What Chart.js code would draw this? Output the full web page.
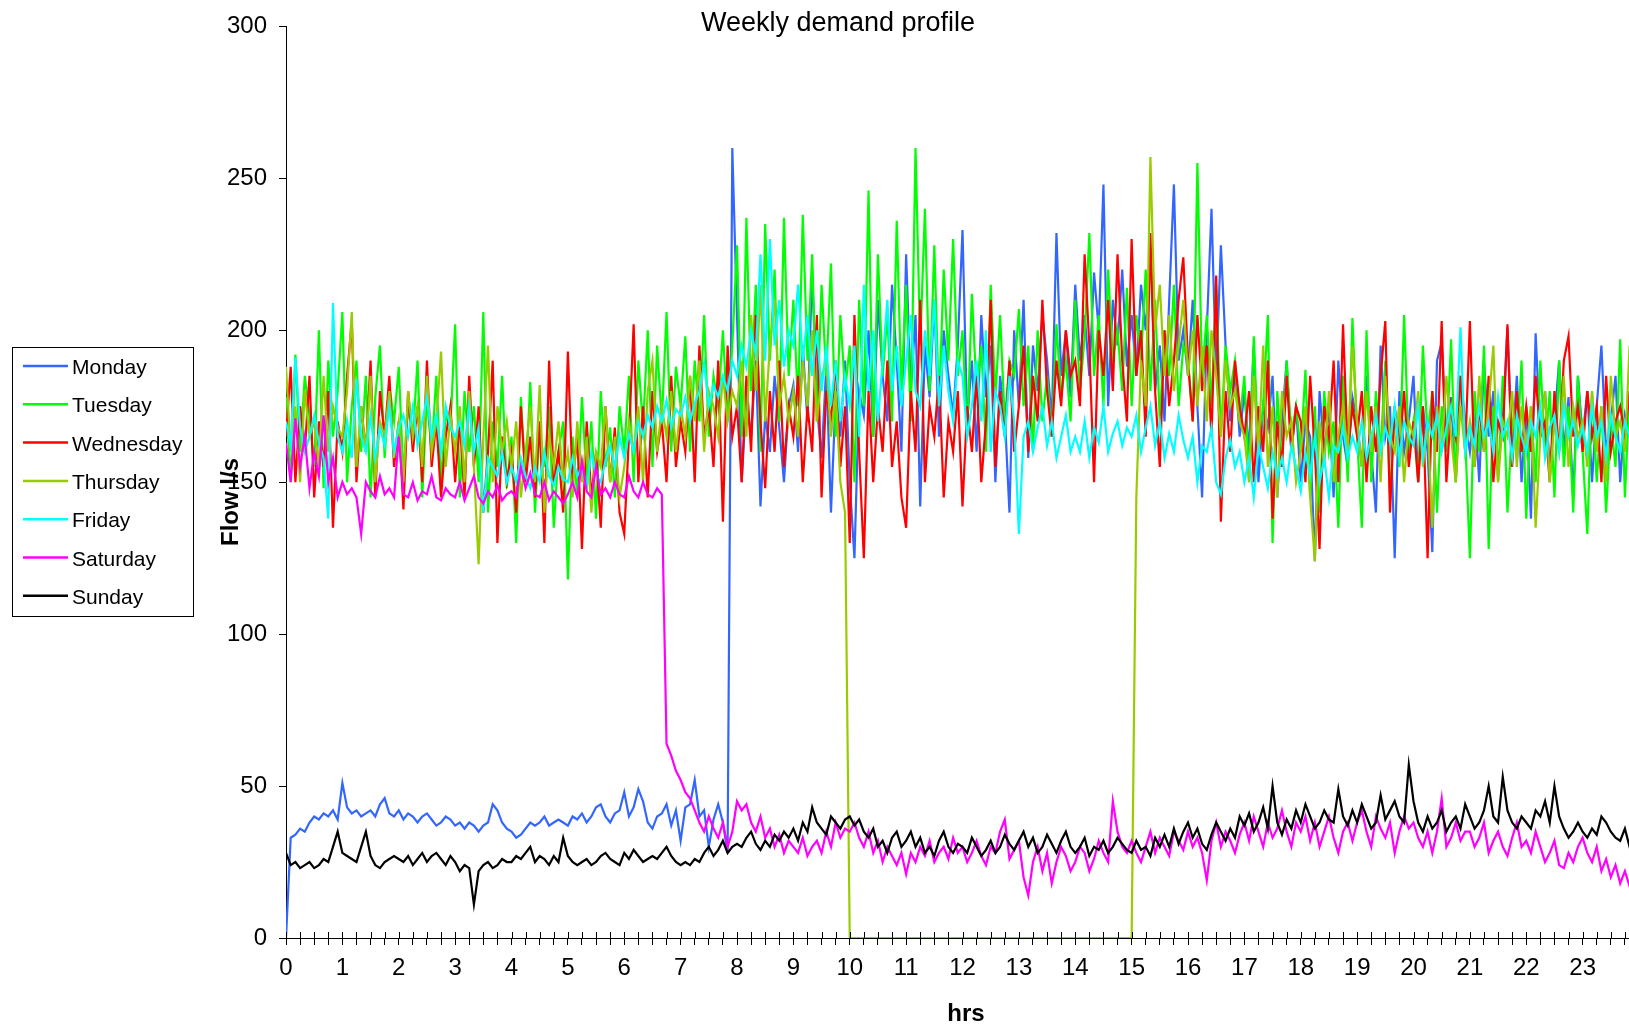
<!DOCTYPE html>
<html><head><meta charset="utf-8">
<script src="https://cdn.jsdelivr.net/npm/chart.js@4/dist/chart.umd.min.js"></script>
<style>
html,body{margin:0;padding:0;background:#fff;overflow:hidden;width:1629px;height:1027px;}
#wrap{position:absolute;left:0;top:0;width:1648px;height:1027px;}
</style>
</head><body><div id="wrap"><canvas id="c" width="1648" height="1027"></canvas></div>
<script>
// 5-minute samples, 288 per day (index i -> i*5 minutes)
const STEP_HOURS = 5 / 60;
const chartTitle = 'Weekly demand profile';
const xTitle = 'hrs';
const yTitle = 'Flow l/s';
const xTickLabels = ['0','1','2','3','4','5','6','7','8','9','10','11','12','13','14','15','16','17','18','19','20','21','22','23'];
const yTickStep = 50;
const dayNames = ['Monday','Tuesday','Wednesday','Thursday','Friday','Saturday','Sunday'];
const dayColors = ['#3366FF','#00FF00','#FF0000','#99CC00','#00FFFF','#FF00FF','#000000'];

const monday = [
0,33,34,36,35,38,40,39,41,40,42,39,
51,43,41,42,40,41,42,40,44,46,41,40,
42,39,41,40,38,40,41,39,37,38,40,39,
37,38,36,38,37,35,37,38,44,42,38,36,
35,33,34,36,38,37,38,40,37,38,39,38,
37,40,39,41,38,40,43,44,40,38,41,42,
48,40,43,49,45,38,36,40,41,44,37,42,
32,43,44,52,40,42,30,39,44,38,28,260,
205,150,178,165,190,142,172,160,185,168,150,175,
182,160,195,170,220,175,158,188,140,178,165,190,
150,125,180,172,200,165,210,185,170,215,190,160,
225,180,205,142,195,178,210,165,200,185,172,195,
233,170,190,160,205,178,195,150,185,172,140,200,
175,210,158,195,180,205,190,170,232,185,200,178,
215,190,205,185,219,200,248,175,210,195,220,188,
205,185,215,200,227,180,195,170,210,248,190,200,
185,210,175,145,200,240,185,228,195,170,188,165,
180,160,195,150,175,168,185,145,170,190,160,175,
150,170,165,124,180,160,175,145,190,165,155,178,
170,155,185,160,140,195,165,175,125,180,160,170,
185,150,175,160,127,190,196,165,178,150,185,170,
160,175,150,190,165,180,155,170,201,160,185,150,
175,138,199,165,180,155,170,190,160,178,145,185,
165,180,150,175,195,160,170,185,150,172,165,180
];
const tuesday = [
178,150,192,160,185,172,155,200,148,190,165,180,
206,150,175,190,160,185,145,178,195,158,182,170,
188,152,175,165,190,145,178,160,185,150,172,168,
202,145,180,160,175,150,206,140,170,155,185,148,
165,130,178,150,183,140,168,155,175,135,160,170,
118,165,145,178,150,170,138,180,155,168,145,175,
160,185,150,190,168,200,155,195,170,206,160,188,
175,198,160,190,170,205,165,185,175,200,170,195,
228,165,237,180,215,160,235,190,220,170,237,185,
210,175,238,190,225,170,215,185,222,165,205,180,
195,150,210,175,246,165,225,185,205,170,236,180,
215,170,260,195,240,180,228,175,220,190,230,185,
200,165,212,180,195,160,215,178,205,170,190,185,
207,175,195,160,200,170,185,165,202,178,190,170,
210,180,198,232,185,205,175,220,190,200,180,214,
175,205,190,220,180,210,170,200,185,215,175,195,
190,170,255,185,205,175,215,165,195,180,190,170,
185,150,198,160,175,205,130,180,155,190,165,175,
160,187,145,175,140,180,160,170,135,185,150,204,
165,135,200,150,180,160,190,145,175,155,205,160,
170,150,195,165,180,140,175,160,197,150,185,165,
125,180,160,195,128,175,150,185,140,170,160,190,
138,175,150,190,160,180,145,190,155,175,140,185,
160,133,180,150,175,140,170,155,197,145,180,165
];
const wednesday = [
165,188,150,175,160,185,145,170,155,180,135,170,
160,185,203,150,175,160,190,145,180,165,185,155,
170,141,180,160,175,150,190,155,170,145,165,175,
150,170,145,185,155,175,140,160,190,130,165,150,
160,140,175,150,165,145,170,130,190,150,160,140,
193,150,165,128,170,145,160,135,175,150,168,140,
133,165,202,150,175,145,180,160,170,150,185,155,
170,160,185,150,195,165,175,155,190,137,195,165,
175,150,185,160,205,170,148,180,160,190,155,175,
165,185,150,175,160,205,145,180,170,190,155,175,
130,205,160,125,180,150,175,160,190,155,170,145,
135,180,160,210,150,175,165,185,145,170,160,180,
142,175,160,185,150,170,210,155,180,165,190,160,
175,195,160,185,170,210,180,165,190,175,200,185,
190,175,225,195,150,200,185,210,180,225,190,170,
230,185,200,165,232,180,155,200,175,190,210,224,
190,170,205,180,195,165,218,137,180,160,190,175,
165,180,150,175,160,190,138,170,155,185,160,175,
170,150,185,160,128,175,165,190,150,202,160,175,
165,180,150,175,160,185,203,140,175,160,180,155,
170,150,175,125,180,160,203,150,175,165,185,160,
203,155,175,160,185,150,170,165,202,155,180,160,
175,160,185,165,170,150,180,160,190,198,165,175,
160,180,165,175,150,185,160,170,175,165,180,160
];
const thursday = [
188,160,175,150,180,165,170,155,185,160,175,168,
165,180,206,155,175,160,185,150,170,165,180,158,
170,150,180,165,175,155,185,160,170,193,155,172,
160,175,150,180,155,123,165,195,150,175,160,170,
155,170,145,160,175,150,182,140,165,155,170,150,
160,145,170,150,165,140,160,155,175,150,165,145,
155,170,160,175,150,180,190,160,175,165,180,160,
175,165,185,170,190,160,180,175,165,185,170,180,
175,190,165,205,180,215,170,195,210,175,185,170,
180,165,190,175,200,170,185,190,165,180,150,140,
0,0,0,0,0,0,0,0,0,0,0,0,
0,0,0,0,0,0,0,0,0,0,0,0,
0,0,0,0,0,0,0,0,0,0,0,0,
0,0,0,0,0,0,0,0,0,0,0,0,
0,0,0,0,0,0,0,0,0,0,0,0,
0,145,190,175,257,200,215,185,205,180,195,210,
185,200,175,195,170,200,185,165,190,175,180,170,
165,150,185,160,195,155,175,145,180,165,170,150,
160,175,145,124,170,155,180,150,165,175,160,195,
170,155,180,160,175,150,185,165,160,175,150,170,
165,180,155,170,135,175,160,185,165,150,175,160,
170,155,185,160,175,195,150,170,165,180,155,175,
160,175,135,165,180,150,170,160,185,155,175,165,
170,155,180,160,175,150,185,165,170,160,195,168
];
const friday = [
170,162,191,168,160,165,172,163,158,138,209,165,
160,170,158,184,165,160,172,158,168,162,175,160,
168,172,165,175,162,170,178,165,172,160,175,168,
165,170,162,175,160,168,140,158,155,152,160,150,
155,150,158,152,148,155,150,160,152,149,155,151,
150,158,152,155,148,160,152,150,157,162,155,165,
158,166,160,170,165,172,168,175,170,177,168,174,
172,178,170,176,180,189,175,182,178,185,180,190,
185,195,188,200,192,225,190,230,195,210,188,200,
195,215,190,205,185,200,180,195,175,190,170,185,
175,195,165,215,180,200,170,190,210,180,195,175,
190,205,180,175,200,185,210,175,195,180,170,190,
185,165,175,190,170,200,160,180,175,165,185,170,
133,165,170,160,168,175,162,170,158,165,172,160,
165,160,170,158,168,163,175,160,166,170,162,168,
165,172,160,168,175,162,170,158,166,160,172,164,
158,165,150,162,160,168,150,146,158,164,155,160,
150,158,145,162,155,148,160,152,158,150,162,155,
147,160,152,165,150,158,145,162,160,168,158,165,
160,170,158,165,172,160,168,163,175,158,170,165,
162,175,158,170,165,172,160,168,175,165,201,160,
168,162,175,165,170,160,178,165,170,158,172,165,
160,170,165,175,158,168,172,160,175,165,170,162,
168,160,175,165,170,158,172,165,160,170,165,168
];
const saturday = [
163,150,171,155,165,148,160,152,172,150,158,145,
150,146,148,145,133,150,147,145,152,146,148,145,
165,146,145,150,144,147,146,152,145,144,148,146,
145,150,144,148,152,145,143,147,145,149,144,146,
147,145,155,148,153,146,145,150,144,147,145,143,
146,150,145,157,147,145,155,146,148,145,150,146,
145,152,147,145,150,146,145,148,146,64,60,55,
52,48,46,42,38,35,40,36,33,38,30,35,
45,42,44,38,35,40,33,36,30,34,28,32,
30,28,33,27,30,32,28,35,30,38,33,36,
35,38,33,30,35,28,32,25,30,27,24,28,
21,28,25,30,27,32,25,28,30,26,33,28,
30,25,28,32,27,24,30,28,35,39,26,29,
32,20,14,25,30,22,28,18,25,30,27,22,
25,30,28,22,26,32,28,25,45,35,30,28,
32,28,25,30,35,28,33,30,27,35,32,29,
35,30,33,28,19,32,38,30,35,32,28,34,
38,32,40,35,30,38,33,36,42,35,30,38,
35,40,32,38,30,35,40,33,28,35,38,32,
38,42,35,30,40,36,33,38,28,35,40,36,
38,33,30,35,28,35,46,30,33,38,32,35,
35,30,33,38,28,32,35,30,27,33,38,30,
32,28,35,30,25,28,32,24,23,28,25,30,
33,28,25,30,22,26,20,24,18,22,17,20
];
const sunday = [
28,24,25,23,24,25,23,24,26,25,30,35,
28,27,26,25,30,35,27,24,23,25,26,27,
26,25,27,24,26,28,25,27,28,26,24,27,
25,22,24,23,11,22,24,25,23,24,26,25,
25,27,26,28,30,25,27,26,24,27,25,33,
27,25,24,25,26,24,25,27,28,26,25,24,
28,26,29,27,25,26,27,26,28,30,27,25,
24,25,24,26,25,28,30,27,29,32,28,30,
31,30,33,35,31,29,32,30,34,32,35,33,
36,32,38,35,43,38,36,34,40,38,36,39,
40,37,39,35,33,36,30,32,28,33,35,30,
32,35,30,33,28,30,27,32,35,30,28,31,
30,28,33,30,27,29,32,28,30,34,31,29,
32,35,30,33,28,30,34,31,28,32,35,30,
28,30,33,27,30,29,32,28,30,33,31,29,
28,32,29,30,27,33,30,34,30,36,31,35,
38,33,36,31,29,34,38,35,32,36,33,40,
37,41,35,38,43,36,50,38,34,39,36,42,
38,44,40,36,38,42,39,38,49,40,37,42,
38,44,40,36,38,47,39,42,45,40,38,57,
45,38,35,40,36,38,42,35,38,40,36,44,
40,36,38,42,50,40,38,53,42,38,36,40,
38,36,42,40,45,38,50,40,36,33,35,38,
35,33,36,34,40,38,35,33,32,36,30,33
];
const seriesValues = [monday, tuesday, wednesday, thursday, friday, saturday, sunday];

const FONT = "'Liberation Sans', Arial, sans-serif";

const datasets = seriesValues.map((vals, k) => ({
  label: dayNames[k],
  data: vals.map((v, i) => ({ x: i * STEP_HOURS, y: v })),
  borderColor: dayColors[k],
  backgroundColor: dayColors[k],
  borderWidth: 2.2,
  pointRadius: 0,
  tension: 0,
  fill: false,
  order: seriesValues.length - k
}));

const decor = {
  id: 'decor',
  afterDraw(chart) {
    const ctx = chart.ctx;
    const xs = chart.scales.x;
    const ca = chart.chartArea;
    ctx.save();
    // inner half of the crossing x tick marks
    ctx.strokeStyle = '#000';
    ctx.lineWidth = 1;
    const yb = Math.round(ca.bottom);
    ctx.beginPath();
    xs.ticks.forEach(t => {
      const px = Math.round(xs.getPixelForValue(t.value)) + 0.5;
      ctx.moveTo(px, yb - 6);
      ctx.lineTo(px, yb);
    });
    ctx.stroke();

    // title
    ctx.fillStyle = '#000';
    ctx.font = '27px ' + FONT;
    ctx.textAlign = 'center';
    ctx.textBaseline = 'alphabetic';
    ctx.fillText(chartTitle, 838, 31);

    // x title
    ctx.font = 'bold 24px ' + FONT;
    ctx.fillText(xTitle, 966, 1021);

    // y title
    ctx.save();
    ctx.translate(231, 502);
    ctx.rotate(-Math.PI / 2);
    ctx.textBaseline = 'middle';
    ctx.fillText(yTitle, 0, 0);
    ctx.restore();

    // legend
    ctx.strokeStyle = '#000';
    ctx.lineWidth = 1;
    ctx.strokeRect(12.5, 347.5, 181, 269);
    ctx.font = '21px ' + FONT;
    ctx.textAlign = 'left';
    ctx.textBaseline = 'alphabetic';
    chart.data.datasets.forEach((ds, k) => {
      const base = 374 + k * 38.3;
      const ly = base - 8;
      ctx.strokeStyle = ds.borderColor;
      ctx.lineWidth = 2.5;
      ctx.beginPath();
      ctx.moveTo(23, ly);
      ctx.lineTo(68, ly);
      ctx.stroke();
      ctx.fillStyle = '#000';
      ctx.fillText(ds.label, 72, base);
    });
    ctx.restore();
  }
};

new Chart(document.getElementById('c'), {
  type: 'line',
  data: { datasets },
  options: {
    responsive: false,
    animation: false,
    devicePixelRatio: 1,
    layout: { padding: { top: 24, right: 2, left: 0, bottom: 0 } },
    plugins: { legend: { display: false }, tooltip: { enabled: false }, title: { display: false } },
    scales: {
      x: {
        type: 'linear',
        min: 0, max: 24,
        afterFit(s) { s.height = 89; },
        ticks: {
          stepSize: 0.25, autoSkip: false, maxRotation: 0, minRotation: 0,
          color: '#000', padding: 9,
          font: { family: FONT, size: 24 },
          callback: (v) => (Number.isInteger(v) && v < xTickLabels.length) ? xTickLabels[v] : ''
        },
        grid: { drawOnChartArea: false, tickLength: 7, color: '#000', lineWidth: 1 },
        border: { color: '#000', width: 1 }
      },
      y: {
        min: 0, max: 300,
        afterFit(s) { s.width = 286; },
        ticks: {
          stepSize: yTickStep, color: '#000', padding: 12,
          font: { family: FONT, size: 24 }
        },
        grid: { drawOnChartArea: false, tickLength: 7, color: '#000', lineWidth: 1 },
        border: { color: '#000', width: 1 }
      }
    }
  },
  plugins: [decor]
});
</script>
</body></html>
